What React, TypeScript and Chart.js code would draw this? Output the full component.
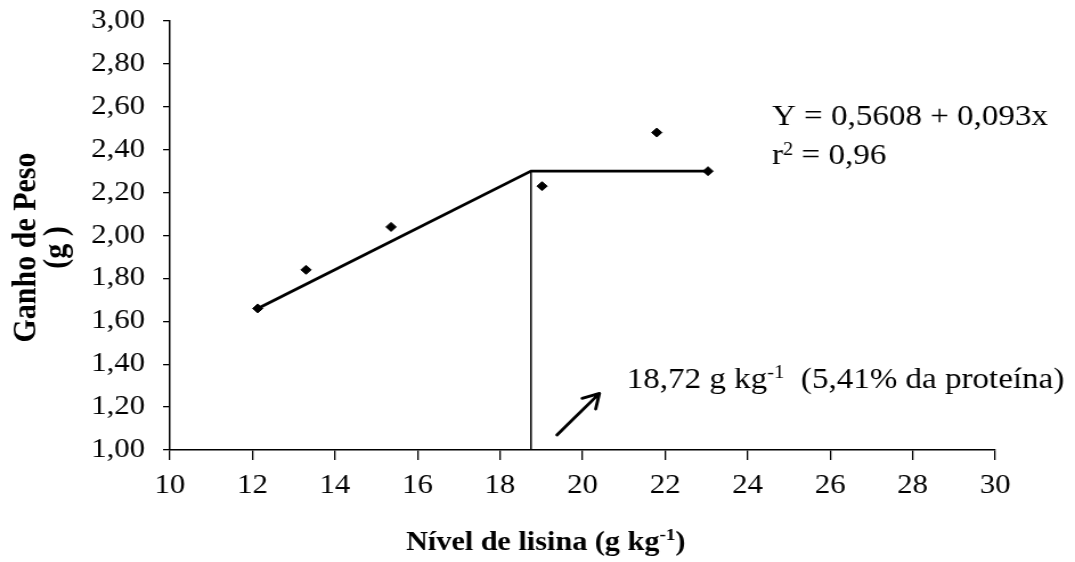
import { useEffect, useRef } from 'react';
import { Chart, registerables } from 'chart.js';

Chart.register(...registerables);

// ---- data ----
const lysineLevels = [12.13, 13.3, 15.36, 19.02, 21.8, 23.04];
const weightGain = [1.66, 1.84, 2.04, 2.23, 2.48, 2.3];

const fitLineX = [12.13, 18.75, 23.04];
const fitLineY = [1.66, 2.3, 2.3];

const breakLineX = [18.75, 18.75];
const breakLineY = [1.0, 2.3];

const xTicksRange = { min: 10, max: 30, step: 2 };
const yTicksRange = { min: 1, max: 3, step: 0.2 };

const equationLine1 = 'Y = 0,5608 + 0,093x';
const equationLine2 = ['r', '2', ' = 0,96'];
const breakLabel = ['18,72 g kg', '-1', '  (5,41% da proteína)'];
const xTitle = ['Nível de lisina (g kg', '-1', ')'];
const yTitle = ['Ganho de Peso', '(g )'];

// annotation anchors in data units
const equationAnchor = { x: 24.59, y1: 2.513, y2: 2.332 };
const breakLabelAnchor = { x: 21.07, y: 1.289 };
const arrowFrom = { x: 19.38, y: 1.07 };
const arrowTo = { x: 20.41, y: 1.264 };

// ---- layout ----
const STRETCH = 1.14;
const PAGE_W = 1075;
const PAGE_H = 562;
const CANVAS_W = Math.round(PAGE_W / STRETCH);
const SERIF = '"Liberation Serif", "Times New Roman", serif';

type Part = { text: string; font: string; dy: number };

function drawParts(ctx: CanvasRenderingContext2D, parts: Part[], x: number, y: number, align: 'left' | 'center') {
  let total = 0;
  for (const p of parts) {
    ctx.font = p.font;
    total += ctx.measureText(p.text).width;
  }
  let cx = align === 'center' ? x - total / 2 : x;
  ctx.textAlign = 'left';
  ctx.textBaseline = 'alphabetic';
  for (const p of parts) {
    ctx.font = p.font;
    ctx.fillText(p.text, cx, y + p.dy);
    cx += ctx.measureText(p.text).width;
  }
}

const annotationPlugin = {
  id: 'annotations',
  afterDraw(chart: any) {
    const { ctx, chartArea, scales } = chart;
    const xs = scales.x;
    const ys = scales.y;
    ctx.save();
    ctx.fillStyle = '#000';
    ctx.strokeStyle = '#000';

    const reg = `29px ${SERIF}`;
    const sup = `18px ${SERIF}`;
    const bold = `bold 26.5px ${SERIF}`;
    const boldSup = `bold 17px ${SERIF}`;

    // equation
    drawParts(ctx, [{ text: equationLine1, font: reg, dy: 0 }], xs.getPixelForValue(equationAnchor.x), ys.getPixelForValue(equationAnchor.y1), 'left');
    drawParts(
      ctx,
      [
        { text: equationLine2[0], font: reg, dy: 0 },
        { text: equationLine2[1], font: sup, dy: -9 },
        { text: equationLine2[2], font: reg, dy: 0 },
      ],
      xs.getPixelForValue(equationAnchor.x),
      ys.getPixelForValue(equationAnchor.y2),
      'left'
    );

    // break label
    drawParts(
      ctx,
      [
        { text: breakLabel[0], font: reg, dy: 0 },
        { text: breakLabel[1], font: sup, dy: -10 },
        { text: breakLabel[2], font: reg, dy: 0 },
      ],
      xs.getPixelForValue(breakLabelAnchor.x),
      ys.getPixelForValue(breakLabelAnchor.y),
      'left'
    );

    // arrow
    const x0 = xs.getPixelForValue(arrowFrom.x);
    const y0 = ys.getPixelForValue(arrowFrom.y);
    const x1 = xs.getPixelForValue(arrowTo.x);
    const y1 = ys.getPixelForValue(arrowTo.y);
    const ang = Math.atan2(y0 - y1, x0 - x1);
    const len = 16;
    const spread = Math.PI / 6;
    ctx.lineWidth = 2.8;
    ctx.lineCap = 'round';
    ctx.lineJoin = 'round';
    ctx.beginPath();
    ctx.moveTo(x0, y0);
    ctx.lineTo(x1, y1);
    ctx.moveTo(x1 + Math.cos(ang + spread) * len, y1 + Math.sin(ang + spread) * len);
    ctx.lineTo(x1, y1);
    ctx.lineTo(x1 + Math.cos(ang - spread) * len, y1 + Math.sin(ang - spread) * len);
    ctx.stroke();

    // x title
    const xTitleX = chartArea.left + (chartArea.right - chartArea.left) * 0.4555;
    const xTitleY = chartArea.bottom + 100;
    drawParts(
      ctx,
      [
        { text: xTitle[0], font: bold, dy: 0 },
        { text: xTitle[1], font: boldSup, dy: -10 },
        { text: xTitle[2], font: bold, dy: 0 },
      ],
      xTitleX,
      xTitleY,
      'center'
    );

    // y title (rotated)
    const yCenter = (chartArea.top + chartArea.bottom) / 2 + 12;
    ctx.font = `bold 30px ${SERIF}`;
    ctx.textAlign = 'center';
    ctx.textBaseline = 'alphabetic';
    const baselines = [30.7, 57.9];
    yTitle.forEach((t, i) => {
      ctx.save();
      ctx.translate(baselines[i], yCenter);
      ctx.rotate(-Math.PI / 2);
      ctx.fillText(t, 0, 0);
      ctx.restore();
    });

    ctx.restore();
  },
};

export default function App() {
  const canvasRef = useRef<HTMLCanvasElement | null>(null);

  useEffect(() => {
    document.body.style.margin = '0';
    document.body.style.background = '#fff';
    const canvas = canvasRef.current;
    if (!canvas) return;

    const points = lysineLevels.map((x, i) => ({ x, y: weightGain[i] }));
    const fit = fitLineX.map((x, i) => ({ x, y: fitLineY[i] }));
    const brk = breakLineX.map((x, i) => ({ x, y: breakLineY[i] }));

    const chart = new Chart(canvas, {
      type: 'scatter',
      data: {
        datasets: [
          {
            type: 'line',
            data: brk,
            borderColor: '#000',
            borderWidth: 1.5,
            pointRadius: 0,
            fill: false,
            order: 3,
          } as any,
          {
            type: 'line',
            data: fit,
            borderColor: '#000',
            borderWidth: 2.8,
            pointRadius: 0,
            tension: 0,
            fill: false,
            order: 2,
          } as any,
          {
            type: 'scatter',
            data: points,
            pointStyle: 'rectRot',
            pointRadius: 4.5,
            backgroundColor: '#000',
            borderColor: '#000',
            borderWidth: 1,
            order: 1,
          } as any,
        ],
      },
      options: {
        responsive: false,
        maintainAspectRatio: false,
        animation: false,
        devicePixelRatio: 1,
        events: [],
        layout: { padding: { left: 0, top: 21, right: CANVAS_W - 873, bottom: 0 } },
        plugins: {
          legend: { display: false },
          tooltip: { enabled: false },
        },
        scales: {
          x: {
            type: 'linear',
            min: xTicksRange.min,
            max: xTicksRange.max,
            afterFit(scale: any) {
              scale.height = PAGE_H - 450;
              scale.paddingLeft = 0;
              scale.paddingRight = 0;
            },
            ticks: {
              stepSize: xTicksRange.step,
              color: '#000',
              padding: 10,
              font: { family: SERIF, size: 27 },
              maxRotation: 0,
              autoSkip: false,
            },
            grid: {
              drawOnChartArea: false,
              drawTicks: true,
              tickLength: 10,
              color: '#000',
              lineWidth: 1.3,
            },
            border: { display: true, color: '#000', width: 1.5 },
          },
          y: {
            type: 'linear',
            min: yTicksRange.min,
            max: yTicksRange.max,
            afterFit(scale: any) {
              scale.width = 149;
              scale.paddingTop = 0;
              scale.paddingBottom = 0;
            },
            ticks: {
              stepSize: yTicksRange.step,
              color: '#000',
              padding: 15.8,
              font: { family: SERIF, size: 27 },
              autoSkip: false,
              callback: (v: any) => Number(v).toFixed(2).replace('.', ','),
            },
            grid: {
              drawOnChartArea: false,
              drawTicks: true,
              tickLength: 6,
              color: '#000',
              lineWidth: 1.3,
            },
            border: { display: true, color: '#000', width: 1.5 },
          },
        },
      },
      plugins: [annotationPlugin],
    });

    return () => chart.destroy();
  }, []);

  return (
    <canvas
      ref={canvasRef}
      width={CANVAS_W}
      height={PAGE_H}
      style={{ display: 'block', width: `${PAGE_W}px`, height: `${PAGE_H}px` }}
    />
  );
}
